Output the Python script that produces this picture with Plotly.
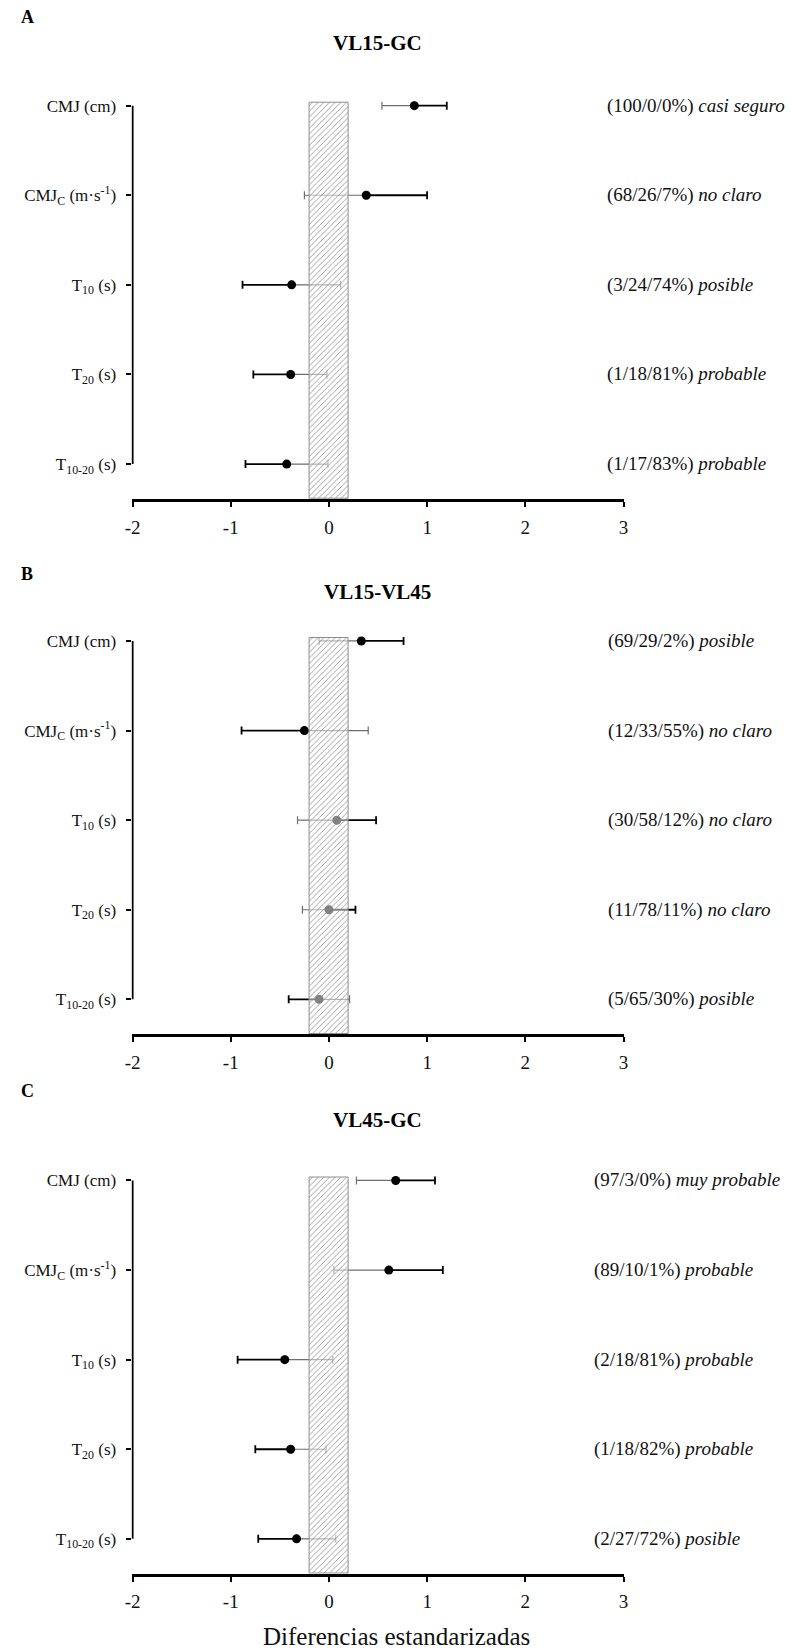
import plotly.graph_objects as go

# Outcome labels (top to bottom) and their vertical positions
categories = [
    "CMJ (cm)",
    "CMJ<sub>C</sub> (m·s<sup>-1</sup>)",
    "T<sub>10</sub> (s)",
    "T<sub>20</sub> (s)",
    "T<sub>10-20</sub> (s)",
]
cat_pos = [5, 4, 3, 2, 1]

x_ticks = [-2, -1, 0, 1, 2, 3]
x_tick_text = ["-2", "-1", "0", "1", "2", "3"]

# Smallest worthwhile change (standardised units)
trivial_limit = 0.2

# Panel A: VL15 vs GC
a_mean = [0.87, 0.38, -0.38, -0.39, -0.43]
a_low = [0.54, -0.25, -0.88, -0.77, -0.85]
a_high = [1.20, 1.00, 0.12, -0.02, -0.01]
a_prob = ["100/0/0%", "68/26/7%", "3/24/74%", "1/18/81%", "1/17/83%"]
a_term = ["casi seguro", "no claro", "posible", "probable", "probable"]

# Panel B: VL15 vs VL45
b_mean = [0.33, -0.25, 0.08, 0.00, -0.10]
b_low = [-0.10, -0.89, -0.32, -0.27, -0.41]
b_high = [0.76, 0.40, 0.48, 0.27, 0.21]
b_prob = ["69/29/2%", "12/33/55%", "30/58/12%", "11/78/11%", "5/65/30%"]
b_term = ["posible", "no claro", "no claro", "no claro", "posible"]

# Panel C: VL45 vs GC
c_mean = [0.68, 0.61, -0.45, -0.39, -0.33]
c_low = [0.28, 0.05, -0.93, -0.75, -0.72]
c_high = [1.08, 1.16, 0.04, -0.03, 0.07]
c_prob = ["97/3/0%", "89/10/1%", "2/18/81%", "1/18/82%", "2/27/72%"]
c_term = ["muy probable", "probable", "probable", "probable", "posible"]

W, H = 791, 1651
FONT = "Liberation Serif"

panels = [
    dict(letter="A", title="VL15-GC", mean=a_mean, low=a_low, high=a_high,
         prob=a_prob, term=a_term, top=96.7, letter_y=17, title_y=43, text_x=607),
    dict(letter="B", title="VL15-VL45", mean=b_mean, low=b_low, high=b_high,
         prob=b_prob, term=b_term, top=632.0, letter_y=574, title_y=592, text_x=608),
    dict(letter="C", title="VL45-GC", mean=c_mean, low=c_low, high=c_high,
         prob=c_prob, term=c_term, top=1171.5, letter_y=1091, title_y=1120, text_x=594),
]

y_range = [0.61, 5.1]
x_range = [-2.01, 3.0]
px_per_cat = 89.6
panel_h = (y_range[1] - y_range[0]) * px_per_cat
x_dom = [126.5 / W, 626 / W]


def py(p):
    return 1 - p / H


fig = go.Figure()
layout = dict(
    width=W, height=H,
    margin=dict(l=0, r=0, t=0, b=0),
    paper_bgcolor="white", plot_bgcolor="white",
    showlegend=False,
    font=dict(family=FONT, color="#111"),
    bargap=0,
)
annotations = []
shapes = []

for i, p in enumerate(panels):
    bx, ox = 2 * i + 1, 2 * i + 2
    bxn = "x" if bx == 1 else f"x{bx}"
    byn = "y" if bx == 1 else f"y{bx}"
    oxn, oyn = f"x{ox}", f"y{ox}"
    bxk = "xaxis" if bx == 1 else f"xaxis{bx}"
    byk = "yaxis" if bx == 1 else f"yaxis{bx}"

    top_px = p["top"]
    bot_px = top_px + panel_h
    y_dom = [py(bot_px), py(top_px)]

    layout[bxk] = dict(
        domain=x_dom, range=x_range, anchor=byn,
        tickvals=x_ticks, ticktext=x_tick_text,
        ticks="outside", ticklen=5, tickwidth=1.5, tickcolor="black",
        showline=True, linewidth=2.5, linecolor="black",
        showgrid=False, zeroline=False, fixedrange=True,
        tickfont=dict(family=FONT, size=19, color="#111"),
        ticklabelstandoff=4,
    )
    layout[byk] = dict(
        domain=y_dom, range=y_range, anchor=bxn,
        tickvals=cat_pos, ticktext=categories,
        ticks="outside", ticklen=5, tickwidth=1.5, tickcolor="black",
        showline=False, showgrid=False, zeroline=False, fixedrange=True,
        tickfont=dict(family=FONT, size=17, color="#111"),
        ticklabelstandoff=6,
    )
    layout[f"xaxis{ox}"] = dict(overlaying=bxn, range=x_range, anchor=oyn,
                                visible=False, fixedrange=True)
    layout[f"yaxis{ox}"] = dict(overlaying=byn, range=y_range, anchor=oxn,
                                visible=False, fixedrange=True)

    mean, low, high = p["mean"], p["low"], p["high"]
    # Half of each interval pointing away from zero: black; half toward zero: grey
    out_plus = [h - m if m >= 0 else 0 for m, h in zip(mean, high)]
    out_minus = [m - l if m < 0 else 0 for m, l in zip(mean, low)]
    in_plus = [h - m if m < 0 else 0 for m, h in zip(mean, high)]
    in_minus = [m - l if m >= 0 else 0 for m, l in zip(mean, low)]

    fig.add_trace(go.Scatter(
        x=mean, y=cat_pos, mode="markers", xaxis=bxn, yaxis=byn,
        marker=dict(size=9, color="rgba(0,0,0,0)"),
        error_x=dict(type="data", symmetric=False, array=out_plus,
                     arrayminus=out_minus, color="black", thickness=1.8, width=4),
        hoverinfo="skip", cliponaxis=False,
    ))
    fig.add_trace(go.Scatter(
        x=mean, y=cat_pos, mode="markers", xaxis=bxn, yaxis=byn,
        marker=dict(size=9, color="black"),
        error_x=dict(type="data", symmetric=False, array=in_plus,
                     arrayminus=in_minus, color="#6e6e6e", thickness=1.2, width=4),
        hoverinfo="skip", cliponaxis=False,
    ))
    # Trivial-change band, drawn on an overlaid subplot so it sits above the marks
    band_top = max(cat_pos) + 0.035
    fig.add_trace(go.Bar(
        x=[0], y=[band_top - y_range[0]], base=[y_range[0]],
        width=[2 * trivial_limit], xaxis=oxn, yaxis=oyn,
        marker=dict(
            color="rgba(255,255,255,0.5)",
            line=dict(color="#8e8e8e", width=1),
            pattern=dict(shape="/", fillmode="replace", size=4, solidity=0.2,
                         fgcolor="#8a8a8a", bgcolor="rgba(255,255,255,0.5)"),
        ),
        hoverinfo="skip",
    ))

    # Vertical axis line between the first and last outcome
    shapes.append(dict(type="line", xref=bxn, yref=byn, x0=-2, x1=-2,
                       y0=min(cat_pos), y1=max(cat_pos),
                       line=dict(color="black", width=2)))

    annotations.append(dict(
        text=f"<b>{p['letter']}</b>", xref="paper", yref="paper",
        x=12 / W, y=py(p["letter_y"]), xanchor="left", yanchor="middle",
        showarrow=False, font=dict(family=FONT, size=18, color="black"),
    ))
    annotations.append(dict(
        text=f"<b>{p['title']}</b>", xref="paper", yref="paper",
        x=376.5 / W, y=py(p["title_y"]), xanchor="center", yanchor="middle",
        showarrow=False, font=dict(family=FONT, size=21, color="black"),
    ))
    for yv, pr, tm in zip(cat_pos, p["prob"], p["term"]):
        annotations.append(dict(
            text=f"({pr}) <i>{tm}</i>", xref="paper", yref=byn,
            x=p["text_x"] / W, y=yv, xanchor="left", yanchor="middle",
            showarrow=False, font=dict(family=FONT, size=19, color="#111"),
        ))

annotations.append(dict(
    text="Diferencias estandarizadas", xref="paper", yref="paper",
    x=395 / W, y=py(1636), xanchor="center", yanchor="middle",
    showarrow=False, font=dict(family=FONT, size=25, color="#111"),
))

layout["annotations"] = annotations
layout["shapes"] = shapes
fig.update_layout(**layout)

fig.write_html("out.html")
